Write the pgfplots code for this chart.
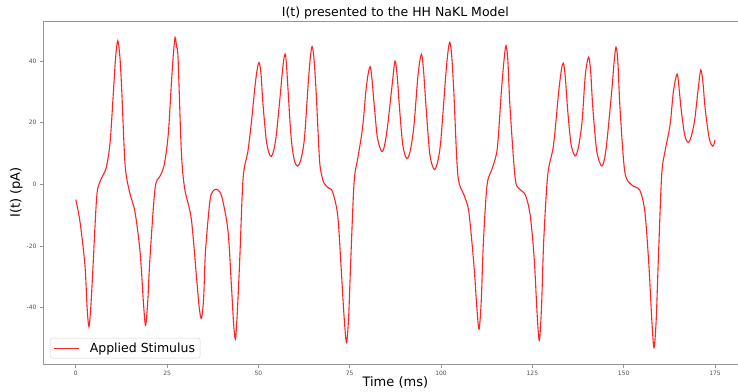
\documentclass[border=0pt]{standalone}
\usepackage{fontspec}
\setmainfont{DejaVu Sans}
\usepackage{pgfplots}
\pgfplotsset{compat=1.18}
\definecolor{spine}{RGB}{150,150,150}
\definecolor{ticklab}{RGB}{80,80,80}
\definecolor{curve}{RGB}{255,35,35}
\definecolor{legedge}{RGB}{210,210,210}
\begin{document}
\begin{tikzpicture}
\begin{axis}[
  name=ax,
  scale only axis,
  width=694.5pt, height=343pt,
  xmin=-8.84, xmax=181.3, ymin=-58.3, ymax=53.0,
  axis y line*=left,
  axis line style={spine, line width=1pt},
  xtick={0,25,50,75,100,125,150,175},
  ytick={-40,-20,0,20,40},
  xtick pos=left, ytick pos=left,
  tick align=outside,
  major tick length=3.5pt,
  tick style={spine, line width=0.8pt},
  tick label style={font=\fontsize{6}{7}\selectfont, text=ticklab},
  /pgf/number format/assume math mode=true,
  title={I(t) presented to the HH NaKL Model},
  title style={at={(0.5066,0.9942)}, anchor=base, font=\fontsize{12.5}{14}\selectfont},
  xlabel={Time (ms)},
  xlabel style={at={(0.5066,-0.06414)}, anchor=base, font=\fontsize{13}{15}\selectfont},
  ylabel={I(t) (pA)},
  ylabel style={at={(-0.03384,0.5)}, anchor=base, font=\fontsize{13}{15}\selectfont},
  legend style={at={(0.00936,0.0166)}, anchor=south west, draw=legedge, rounded corners=2pt,
    font=\fontsize{12.5}{14}\selectfont, inner xsep=3pt, inner ysep=2.5pt,
    nodes={inner sep=2pt}, column sep=8.5pt},
  legend image code/.code={\draw[#1] (0pt,0pt) -- (25pt,0pt);},
]
\addplot[curve, line width=1.1pt, smooth] coordinates {
(0.0,-4.9) (1.15,-12.1) (2.5,-26.2) (3.1,-40) (3.6,-46.2) (4.1,-40) (4.6,-29.4)
(5.7,-4.5) (6.6,0.8) (8.3,5.3) (9.4,13.8) (10.3,30) (10.9,41) (11.5,46.6)
(12.1,41) (12.6,30) (13.5,6.3) (14.7,-2.4) (16.2,-8.9) (17.6,-21.9) (18.5,-38)
(19.1,-45.7) (19.7,-38) (20.3,-24) (21.7,-1.3) (23.0,2.5) (24.2,6.3) (25.3,16)
(26.2,33.3) (26.7,42) (27.2,47.7) (27.6,44.5) (28.0,40.9) (28.9,10.6) (29.8,-1.3)
(31.6,-11) (33.0,-29.4) (33.8,-40) (34.4,-43.5) (35.0,-37) (35.5,-21.9) (36.7,-5.6)
(37.5,-2.3) (38.5,-1.6) (39.5,-2.6) (40.3,-5.6) (41.7,-15.4) (42.6,-32.7) (43.2,-45)
(43.7,-50.2) (44.2,-42) (44.9,-24) (45.8,1.9) (47.1,10.6) (48.0,19.3) (49.1,32.2)
(49.7,37.5) (50.2,39.5) (50.7,36) (51.2,26.8) (52.1,14.9) (52.8,10.5) (53.5,9.0)
(54.2,11) (54.9,16) (55.8,26.8) (56.6,37) (57.1,41.6) (57.6,40) (58.9,16)
(59.8,8) (60.7,5.9) (61.6,8) (62.6,14.9) (63.6,32.2) (64.2,41) (64.7,44.7)
(65.2,41) (65.8,30) (66.7,8.4) (67.3,3) (68.0,0.3) (69.2,-1.2) (70.3,-2.4)
(71.7,-10) (72.6,-26.2) (73.4,-42) (74.1,-51.3) (74.7,-43) (75.3,-24) (76.2,0.8)
(77.2,8.4) (78.5,18.2) (79.4,30) (80.0,35.5) (80.6,38.2) (81.1,34) (81.7,25.7)
(82.6,15) (83.8,10.6) (84.6,13) (85.4,19.3) (86.6,32.2) (87.4,40) (88.0,35)
(88.5,26.8) (89.5,13) (90.6,8.4) (91.6,11) (92.6,19.3) (93.7,35.5) (94.6,42.2)
(95.2,37) (95.8,26.8) (96.9,10) (98.1,4.9) (99.0,7) (99.9,13.8) (101.3,35.5)
(101.9,43) (102.4,46.1) (102.9,42) (103.5,30) (104.6,3) (106.3,-3.5) (107.6,-8.9)
(109.0,-26.2) (109.8,-40) (110.4,-47) (111.0,-38) (111.6,-18.6) (112.6,-0.2) (114.0,5.2)
(115.4,11.7) (116.5,30) (117.3,41) (117.8,45.0) (118.3,40) (118.9,24.7) (120.3,1.9)
(121.5,-1.5) (123.1,-3.5) (124.4,-10) (125.5,-24) (126.3,-42) (126.9,-50.6) (127.5,-40)
(128.1,-18.6) (129.2,3.0) (130.8,12.8) (132.2,30) (133.0,37.5) (133.5,39.3) (134.0,35)
(134.7,23.6) (135.6,13) (136.7,9.2) (137.6,12) (138.6,20.3) (139.5,35.5) (140.4,41.3)
(141.0,36) (141.5,25.7) (142.6,11) (143.9,6.0) (144.7,8) (145.4,13.8) (146.8,31.2)
(147.4,40) (147.9,44.5) (148.4,40) (149.0,24.7) (150.3,4.1) (152.2,-0.2) (154.4,-1.9)
(155.8,-8.9) (156.9,-26.2) (157.7,-44) (158.3,-53.0) (158.9,-44) (159.5,-24) (160.4,3.0)
(161.3,10.6) (162.7,19.3) (163.6,30) (164.6,35.8) (165.1,32) (165.7,24.7) (166.7,16)
(167.7,13.6) (168.6,16) (169.5,21.4) (170.4,31) (171.1,37.1) (171.7,33) (172.3,24.7)
(173.4,15) (174.4,12.4) (175.0,14.4)
};
\addlegendentry{Applied Stimulus}
\end{axis}
\pgfresetboundingbox
\path[use as bounding box] ([shift={(-43.5pt,-27pt)}]ax.south west) rectangle ([shift={(0pt,21pt)}]ax.north east);
\end{tikzpicture}
\end{document}
